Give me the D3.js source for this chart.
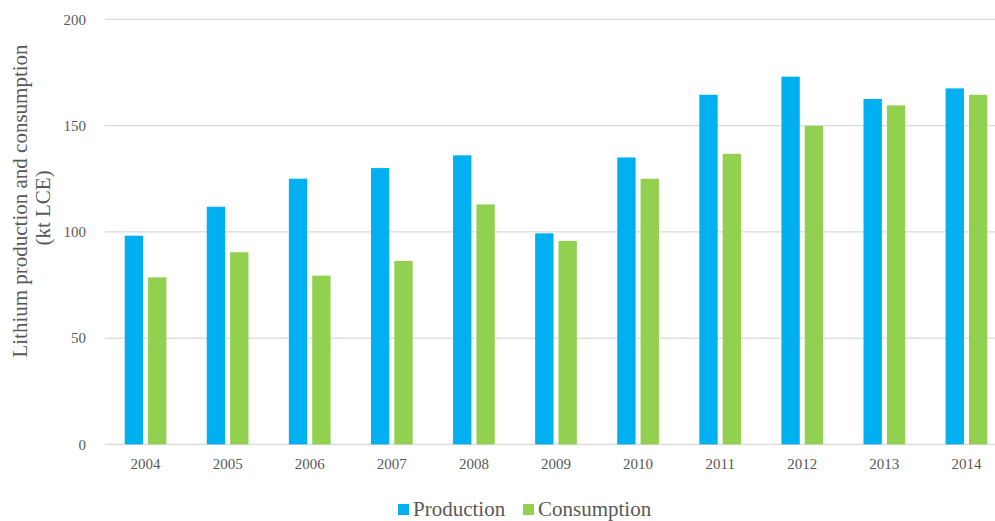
<!DOCTYPE html>
<html>
<head>
<meta charset="utf-8">
<script src="https://cdn.jsdelivr.net/npm/d3@7"></script>
<style>
  html, body { margin: 0; padding: 0; background: #ffffff; }
  svg { display: block; }
</style>
</head>
<body>
<svg id="chart" width="995" height="521"></svg>
<script>
const years = ["2004","2005","2006","2007","2008","2009","2010","2011","2012","2013","2014"];
const production = [98.2, 111.8, 125.0, 130.0, 136.0, 99.3, 135.0, 164.5, 173.0, 162.5, 167.5];
const consumption = [78.6, 90.4, 79.4, 86.3, 112.9, 95.7, 125.0, 136.7, 149.8, 159.5, 164.5];
const seriesNames = ["Production", "Consumption"];
const seriesColors = ["#00b0f0", "#92d050"];
const yTicks = [0, 50, 100, 150, 200];

const svg = d3.select("#chart");
const font = "'Liberation Serif', 'Times New Roman', serif";
const textColor = "#595959";

const x0 = d3.scaleBand().domain(years).range([104.5, 1007.5]).paddingInner(0.492).paddingOuter(0.246);
const x1 = d3.scaleBand().domain(seriesNames).range([0, x0.bandwidth()]).paddingInner(0.215).paddingOuter(0);
const y = d3.scaleLinear().domain([0, 200]).range([444.4, 19.3]);
const color = d3.scaleOrdinal().domain(seriesNames).range(seriesColors);

// gridlines
svg.append("g").selectAll("line").data(yTicks).join("line")
  .attr("x1", 105).attr("x2", 995)
  .attr("y1", d => y(d)).attr("y2", d => y(d))
  .attr("stroke", "#d9d9d9").attr("stroke-width", 1.2);

// y axis labels
const yAxis = d3.axisLeft(y).tickValues(yTicks).tickSize(0).tickPadding(0);
const yg = svg.append("g").attr("transform", "translate(86,0)").call(yAxis);
yg.select(".domain").remove();
yg.selectAll("text").attr("font-family", font).attr("font-size", 15).attr("fill", textColor);

// x axis labels
const xAxis = d3.axisBottom(x0).tickSize(0).tickPadding(0);
const xg = svg.append("g").attr("transform", "translate(0,458)").call(xAxis);
xg.select(".domain").remove();
xg.selectAll("text").attr("font-family", font).attr("font-size", 15).attr("fill", textColor);

// bars
const data = years.map((yr, i) => ({ year: yr, values: [
  { name: "Production", value: production[i] },
  { name: "Consumption", value: consumption[i] }
]}));

svg.append("g").selectAll("g").data(data).join("g")
  .attr("transform", d => `translate(${x0(d.year)},0)`)
  .selectAll("rect").data(d => d.values).join("rect")
  .attr("x", d => x1(d.name))
  .attr("width", x1.bandwidth())
  .attr("y", d => y(d.value))
  .attr("height", d => y(0) - y(d.value))
  .attr("fill", d => color(d.name));

// y axis title
const title = svg.append("g").attr("font-family", font).attr("font-size", 21).attr("fill", textColor).attr("text-anchor", "middle");
title.append("text").attr("transform", "translate(27,201) rotate(-90)").text("Lithium production and consumption");
title.append("text").attr("transform", "translate(50,208) rotate(-90)").text("(kt LCE)");

// legend
const legendX = [398, 523];
const legend = svg.append("g");
seriesNames.forEach((name, i) => {
  legend.append("rect").attr("x", legendX[i]).attr("y", 504).attr("width", 11).attr("height", 11).attr("fill", color(name));
  legend.append("text").attr("x", legendX[i] + 15).attr("y", 516)
    .attr("font-family", font).attr("font-size", 21).attr("fill", textColor).text(name);
});
</script>
</body>
</html>
